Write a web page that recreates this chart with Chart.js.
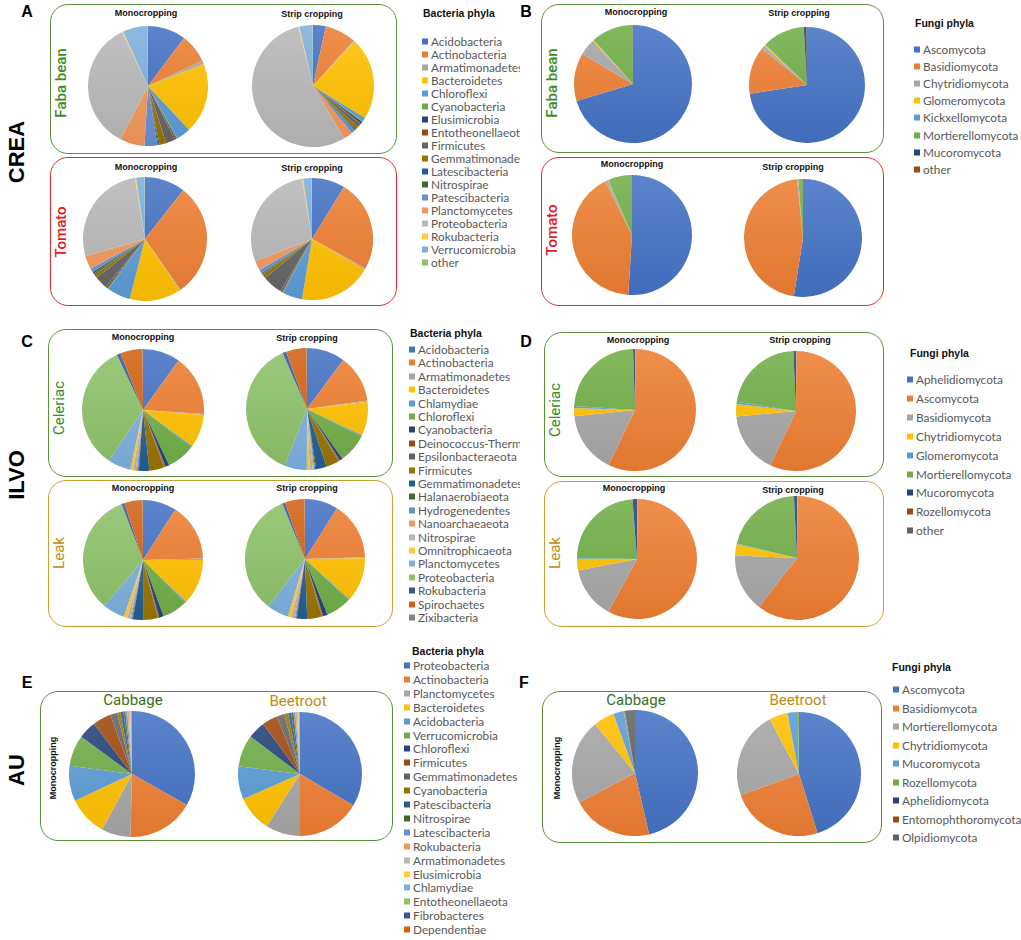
<!DOCTYPE html>
<html>
<head>
<meta charset="utf-8">
<script src="https://cdn.jsdelivr.net/npm/chart.js@4.4.1/dist/chart.umd.min.js"></script>
<style>
  body { margin: 0; background: #fff; }
  #stage { position: relative; width: 1021px; height: 940px; overflow: hidden; font-family: "Liberation Sans", Arial, sans-serif; }
  .frame { position: absolute; box-sizing: border-box; border: 1.5px solid; border-radius: 18px; }
  .lbl { position: absolute; white-space: nowrap; transform: translate(-50%, -50%); }
  .rot { transform: translate(-50%, -50%) rotate(-90deg); }
  .legend { position: absolute; overflow: hidden; font-family: Lato, "Open Sans", sans-serif; color: #595959; }
  .legend .ttl { position: absolute; font-family: "Liberation Sans", Arial, sans-serif; font-weight: bold; color: #111; font-size: 10.5px; white-space: nowrap; transform: translateY(-50%); }
  .legend .it { position: absolute; white-space: nowrap; font-size: 11.8px; transform: translateY(-50%); }
  .legend .sq { display: inline-block; width: 6px; height: 6px; margin-right: 3px; vertical-align: 1px; }
</style>
</head>
<body>
<div id="stage"></div>
<script>
// Excel default pie colours, in legend order
var palette = ['#4472C4','#ED7D31','#A5A5A5','#FFC000','#5B9BD5','#70AD47','#264478','#9E480E',
  '#636363','#997300','#255E91','#43682B','#698ED0','#F1975A','#B7B7B7','#FFCD33','#7CAFDD',
  '#8CC168','#335AA1','#D26012','#848484'];

// A - CREA bacteria (%)
var bactA = ['Acidobacteria','Actinobacteria','Armatimonadetes','Bacteroidetes','Chloroflexi','Cyanobacteria',
  'Elusimicrobia','Entotheonellaeota','Firmicutes','Gemmatimonadetes','Latescibacteria','Nitrospirae',
  'Patescibacteria','Planctomycetes','Proteobacteria','Rokubacteria','Verrucomicrobia','other'];
var fabaMonoA   = [10.4, 7.9, 1.0, 19.2, 3.9, 0.3, 0.3, 0.2, 2.5, 1.8, 0.3, 0.3, 3.5, 6.7, 35.8, 0.3, 6.8, 0.1];
var fabaStripA  = [3.4, 8.3, 0.3, 22.0, 1.0, 0.3, 0.5, 0.2, 1.0, 0.7, 0.3, 0.3, 1.0, 2.5, 55.0, 0.3, 3.5, 0.1];
var tomMonoA    = [10.6, 29.8, 0.3, 13.5, 6.1, 0.3, 0.3, 0.3, 3.3, 1.0, 0.3, 0.5, 1.0, 3.5, 27.0, 0.3, 2.2, 0.1];
var tomStripA   = [8.7, 23.9, 0.3, 19.1, 5.2, 0.3, 0.3, 0.2, 5.2, 1.0, 0.2, 0.3, 1.0, 2.5, 28.0, 0.3, 2.2, 0.1];

// B - CREA fungi (%)
var fungiB = ['Ascomycota','Basidiomycota','Chytridiomycota','Glomeromycota','Kickxellomycota',
  'Mortierellomycota','Mucoromycota','other'];
var fabaMonoB  = [70.7, 13.2, 4.5, 0.3, 0.1, 11.5, 0.1, 0.05];
var fabaStripB = [72.9, 13.3, 1.0, 0.3, 0.1, 11.9, 0.8, 0.1];
var tomMonoB   = [51.1, 41.7, 0.8, 0.1, 0.0, 6.5, 0.0, 0.0];
var tomStripB  = [52.5, 45.9, 0.3, 0.0, 0.0, 1.3, 0.0, 0.0];

// C - ILVO bacteria (%)
var bactC = ['Acidobacteria','Actinobacteria','Armatimonadetes','Bacteroidetes','Chlamydiae','Chloroflexi',
  'Cyanobacteria','Deinococcus-Thermus','Epsilonbacteraeota','Firmicutes','Gemmatimonadetes',
  'Halanaerobiaeota','Hydrogenedentes','Nanoarchaeaeota','Nitrospirae','Omnitrophicaeota',
  'Planctomycetes','Proteobacteria','Rokubacteria','Spirochaetes','Zixibacteria'];
var celMonoC   = [10.0, 16.3, 0.3, 8.8, 0.3, 7.7, 1.0, 0.2, 0.2, 4.0, 2.8, 0.2, 0.3, 0.3, 0.7, 0.8, 6.2, 33.8, 1.0, 6.0, 0.1];
var celStripC  = [10.2, 12.8, 0.3, 9.1, 0.3, 7.8, 0.8, 0.2, 0.2, 3.5, 2.8, 0.3, 0.3, 0.3, 0.8, 0.8, 6.0, 37.8, 1.0, 5.5, 0.1];
var leakMonoC  = [9.2, 15.8, 0.4, 12.4, 0.3, 7.0, 1.2, 0.2, 0.2, 4.0, 2.8, 0.2, 0.3, 0.3, 0.7, 1.0, 6.0, 33.6, 0.8, 5.0, 0.1];
var leakStripC = [9.1, 15.8, 0.3, 12.1, 0.3, 7.0, 1.2, 0.2, 0.2, 4.0, 2.8, 0.2, 0.3, 0.3, 0.7, 1.0, 6.0, 33.8, 0.8, 5.4, 0.1];

// D - ILVO fungi (%)
var fungiD = ['Aphelidiomycota','Ascomycota','Basidiomycota','Chytridiomycota','Glomeromycota',
  'Mortierellomycota','Mucoromycota','Rozellomycota','other'];
var celMonoD   = [0.1, 57.4, 16.3, 2.2, 0.5, 23.6, 0.5, 0.0, 0.0];
var celStripD  = [0.1, 57.2, 16.5, 3.4, 0.6, 21.9, 0.7, 0.0, 0.0];
var leakMonoD  = [0.1, 57.7, 14.0, 3.1, 0.2, 23.5, 1.2, 0.0, 0.0];
var leakStripD = [0.1, 60.6, 15.2, 2.9, 0.2, 20.5, 0.8, 0.0, 0.0];

// E - AU bacteria (%)
var bactE = ['Proteobacteria','Actinobacteria','Planctomycetes','Bacteroidetes','Acidobacteria',
  'Verrucomicrobia','Chloroflexi','Firmicutes','Gemmatimonadetes','Cyanobacteria','Patescibacteria',
  'Nitrospirae','Latescibacteria','Rokubacteria','Armatimonadetes','Elusimicrobia','Chlamydiae',
  'Entotheonellaeota','Fibrobacteres','Dependentiae'];
var cabbageE  = [33.2, 17.2, 7.5, 10.1, 9.1, 8.0, 4.6, 4.7, 1.8, 0.8, 0.8, 0.5, 0.5, 0.4, 0.3, 0.1, 0.1, 0.1, 0.1, 0.1];
var beetrootE = [33.5, 16.5, 9.0, 9.4, 8.6, 8.3, 4.6, 4.0, 2.0, 1.0, 0.8, 0.6, 0.5, 0.4, 0.3, 0.1, 0.1, 0.1, 0.1, 0.1];

// F - AU fungi (%)
var fungiF = ['Ascomycota','Basidiomycota','Mortierellomycota','Chytridiomycota','Mucoromycota',
  'Rozellomycota','Aphelidiomycota','Entomophthoromycota','Olpidiomycota'];
var cabbageF  = [46.5, 20.9, 21.9, 5.3, 2.7, 0.2, 0.05, 0.05, 2.6];
var beetrootF = [45.3, 24.4, 22.8, 4.8, 2.7, 0.3, 0.0, 0.0, 0.0];

var stage = document.getElementById('stage');
var GREEN = '#5f8f3e', RED = '#e5292d', GOLD = '#c9a234';

function mix(hex, to, t) {
  var a = parseInt(hex.slice(1), 16), b = parseInt(to.slice(1), 16);
  var r = Math.round(((a >> 16) & 255) * (1 - t) + ((b >> 16) & 255) * t);
  var g = Math.round(((a >> 8) & 255) * (1 - t) + ((b >> 8) & 255) * t);
  var bl = Math.round((a & 255) * (1 - t) + (b & 255) * t);
  return 'rgb(' + r + ',' + g + ',' + bl + ')';
}

// light-to-dark shading like the office pies
function shade(c) {
  var base = palette[c.dataIndex % palette.length];
  var area = c.chart.chartArea;
  if (!area) return base;
  var g = c.chart.ctx.createLinearGradient(0, area.top, 0, area.bottom);
  g.addColorStop(0, mix(base, '#ffffff', 0.13));
  g.addColorStop(1, mix(base, '#000000', 0.05));
  return g;
}

function pie(cx, cy, r, labels, values) {
  var cv = document.createElement('canvas');
  cv.width = 2 * r; cv.height = 2 * r;
  cv.style.position = 'absolute';
  cv.style.left = (cx - r) + 'px';
  cv.style.top = (cy - r) + 'px';
  stage.appendChild(cv);
  new Chart(cv, {
    type: 'pie',
    data: { labels: labels, datasets: [{ data: values, backgroundColor: shade, borderWidth: 0 }] },
    options: {
      responsive: false, animation: false, events: [],
      layout: { padding: 0 },
      plugins: { legend: { display: false }, tooltip: { enabled: false } }
    }
  });
}

function frame(x1, y1, x2, y2, col) {
  var d = document.createElement('div');
  d.className = 'frame';
  d.style.left = x1 + 'px'; d.style.top = y1 + 'px';
  d.style.width = (x2 - x1) + 'px'; d.style.height = (y2 - y1) + 'px';
  d.style.borderColor = col;
  stage.appendChild(d);
}

function label(text, x, y, css, rot) {
  var d = document.createElement('div');
  d.className = 'lbl' + (rot ? ' rot' : '');
  d.textContent = text;
  d.style.left = x + 'px'; d.style.top = y + 'px';
  d.style.cssText += css;
  stage.appendChild(d);
}

function legend(names, title, titleX, titleY, sqX, firstY, step, clipRight) {
  var x = Math.min(titleX, sqX);
  var box = document.createElement('div');
  box.className = 'legend';
  box.style.left = x + 'px'; box.style.top = '0px';
  box.style.width = (clipRight - x) + 'px'; box.style.height = '940px';
  var t = document.createElement('div');
  t.className = 'ttl'; t.textContent = title;
  t.style.left = (titleX - x) + 'px'; t.style.top = titleY + 'px';
  box.appendChild(t);
  names.forEach(function (n, i) {
    var it = document.createElement('div');
    it.className = 'it';
    it.style.left = (sqX - x) + 'px';
    it.style.top = (firstY + i * step) + 'px';
    it.innerHTML = '<span class="sq" style="background:' + palette[i] + '"></span>';
    it.appendChild(document.createTextNode(n));
    box.appendChild(it);
  });
  stage.appendChild(box);
}

var bigF = 'font-weight:bold;font-size:22px;color:#000;';
var letF = 'font-weight:bold;font-size:16px;color:#000;';
var subF = 'font-weight:bold;font-size:9px;color:#111;';
var cropF = 'font-family:Roboto,sans-serif;font-weight:500;font-size:15px;';
var cropL = 'font-family:Roboto,sans-serif;font-weight:400;font-size:15px;';
var DG = 'color:#3b8a22;', DR = 'color:#e3191f;', DY = 'color:#bf8c12;';

// frames
frame(50, 4, 397, 154, GREEN);  frame(50, 157, 397, 306, RED);
frame(541, 4, 884, 153, GREEN); frame(541, 157, 884, 306, RED);
frame(48, 329, 393, 477, GREEN); frame(48, 480, 393, 627, GOLD);
frame(544, 332, 884, 477, GREEN); frame(544, 481, 884, 627, GOLD);
frame(40, 691, 393, 841, GREEN); frame(542, 691, 882, 843, GREEN);

// panel letters and site names
label('A', 27, 12, letF); label('B', 526, 12, letF);
label('C', 27, 342, letF); label('D', 526, 342, letF);
label('E', 27, 683, letF); label('F', 524, 683, letF);
label('CREA', 17, 152, bigF, true);
label('ILVO', 17, 475, bigF, true);
label('AU', 17, 770, bigF, true);

// crop labels
label('Faba bean', 61, 83, cropF + DG, true);
label('Tomato', 61, 232, cropF + DR, true);
label('Faba bean', 552, 83, cropF + DG, true);
label('Tomato', 552, 230, cropF + DR, true);
label('Celeriac', 59, 408, cropL + DG, true);
label('Leak', 59, 553, cropL + DY, true);
label('Celeriac', 555, 410, cropL + DG, true);
label('Leak', 555, 553, cropL + DY, true);
label('Cabbage', 133, 700, cropL + 'color:#3a6e1e;');
label('Beetroot', 298, 701, cropL + DY);
label('Cabbage', 636, 700, cropL + 'color:#3a6e1e;');
label('Beetroot', 798, 700, cropL + DY);
label('Monocropping', 53, 768, subF, true);
label('Monocropping', 557, 768, subF, true);

// pie titles
[[146, 13, 'Monocropping'], [312, 14, 'Strip cropping'], [146, 167, 'Monocropping'], [312, 168, 'Strip cropping'],
 [636, 12, 'Monocropping'], [799, 13, 'Strip cropping'], [632, 164, 'Monocropping'], [793, 167, 'Strip cropping'],
 [143, 337, 'Monocropping'], [307, 338, 'Strip cropping'], [143, 488, 'Monocropping'], [307, 488, 'Strip cropping'],
 [638, 340, 'Monocropping'], [800, 340, 'Strip cropping'], [634, 488, 'Monocropping'], [793, 490, 'Strip cropping']
].forEach(function (t) { label(t[2], t[0], t[1], subF); });

// pies
pie(148, 86, 60, bactA, fabaMonoA);
pie(313, 86, 61, bactA, fabaStripA);
pie(145, 239, 62, bactA, tomMonoA);
pie(312, 239, 61, bactA, tomStripA);

pie(633, 84, 59, fungiB, fabaMonoB);
pie(807, 85, 58, fungiB, fabaStripB);
pie(632, 235, 60, fungiB, tomMonoB);
pie(803, 238, 59, fungiB, tomStripB);

pie(143, 410, 61, bactC, celMonoC);
pie(307, 409, 61, bactC, celStripC);
pie(143, 560, 60, bactC, leakMonoC);
pie(305, 559, 60, bactC, leakStripC);

pie(635, 410, 61, fungiD, celMonoD);
pie(796, 411, 60, fungiD, celStripD);
pie(637, 559, 60, fungiD, leakMonoD);
pie(797, 558, 62, fungiD, leakStripD);

pie(132, 774, 63, bactE, cabbageE);
pie(300, 774, 62, bactE, beetrootE);
pie(635, 773, 63, fungiF, cabbageF);
pie(799, 774, 62, fungiF, beetrootF);

// legends
legend(bactA, 'Bacteria phyla', 423, 13, 422, 41, 13.0, 520);
legend(fungiB, 'Fungi phyla', 915, 23, 914, 49, 17.1, 1021);
legend(bactC, 'Bacteria phyla', 410, 333, 409, 349, 13.4, 520);
legend(fungiD, 'Fungi phyla', 910, 353, 907, 379, 18.9, 1021);
legend(bactE, 'Bacteria phyla', 412, 651, 404, 665, 13.9, 520);
legend(fungiF, 'Fungi phyla', 892, 667, 893, 689, 18.5, 1021);
</script>
</body>
</html>
